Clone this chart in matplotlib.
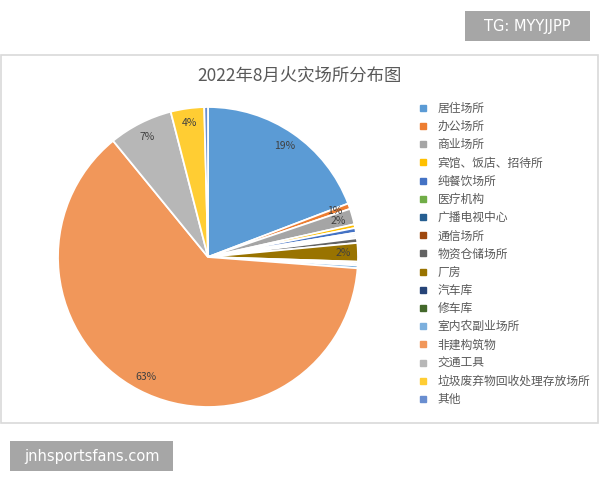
import matplotlib
matplotlib.use("Agg")
import matplotlib.pyplot as plt
from matplotlib.lines import Line2D
from matplotlib.patches import Rectangle
import numpy as np

plt.rcParams['font.family'] = ['Noto Sans CJK SC', 'DejaVu Sans']

title = "2022年8月火灾场所分布图"
categories = ["居住场所", "办公场所", "商业场所", "宾馆、饭店、招待所", "纯餐饮场所",
              "医疗机构", "广播电视中心", "通信场所", "物资仓储场所", "厂房",
              "汽车库", "修车库", "室内农副业场所", "非建构筑物", "交通工具",
              "垃圾废弃物回收处理存放场所", "其他"]
values = [19.2, 0.6, 1.7, 0.4, 0.5, 0.2, 0.2, 0.2, 0.5, 2.0,
          0.2, 0.2, 0.3, 62.9, 6.9, 3.6, 0.4]
colors = ["#5B9BD5", "#ED7D31", "#A5A5A5", "#FFC000", "#4472C4",
          "#70AD47", "#255E91", "#9E480E", "#636363", "#997300",
          "#264478", "#43682B", "#7CAFDD", "#F1975A", "#B7B7B7",
          "#FFCD33", "#698ED0"]

W, H = 600, 480
fig = plt.figure(figsize=(6, 4.8), dpi=100)

def fx(px):
    return px / W

def fy(py):
    return 1 - py / H

# chart frame
fig.patches.append(Rectangle((fx(1), fy(423)), fx(597), (423 - 55) / H,
                             transform=fig.transFigure, facecolor='white',
                             edgecolor='#d9d9d9', linewidth=1.2, zorder=-5))

# watermarks
fig.patches.append(Rectangle((fx(465), fy(41)), fx(125), 30 / H,
                             transform=fig.transFigure, facecolor='#a6a6a6',
                             edgecolor='none', zorder=-4))
fig.text(fx(527.5), fy(26), "TG: MYYJJPP", color='white', fontsize=10.5,
         ha='center', va='center', family=['DejaVu Sans'])
fig.patches.append(Rectangle((fx(10), fy(471)), fx(163), 30 / H,
                             transform=fig.transFigure, facecolor='#a6a6a6',
                             edgecolor='none', zorder=-4))
fig.text(fx(91.5), fy(456), "jnhsportsfans.com", color='white', fontsize=10.5,
         ha='center', va='center', family=['DejaVu Sans'])

fig.text(fx(299), fy(76), title, color='#595959', fontsize=12.5,
         ha='center', va='center')

cx, cy, r = 208, 257, 150
ax = fig.add_axes([fx(cx - r), fy(cy + r), 2 * r / W, 2 * r / H])
ax.set_zorder(5)
ax.patch.set_alpha(0)

def fmt(p):
    return f"{p:.0f}%" if p >= 0.55 else ""

wedges, texts, autotexts = ax.pie(values, colors=colors, startangle=90, counterclock=False,
                                  autopct=fmt, pctdistance=0.9,
                                  wedgeprops=dict(edgecolor='white', linewidth=1.3),
                                  textprops=dict(color='#404040', fontsize=7.5))
ax.set_xlim(-1.0, 1.0)
ax.set_ylim(-1.0, 1.0)
ax.set_aspect('equal')

handles = [Line2D([0], [0], marker='s', linestyle='none', markersize=5,
                  markerfacecolor=c, markeredgecolor=c) for c in colors]
leg = fig.legend(handles, categories, loc='upper left',
                 bbox_to_anchor=(fx(418), fy(102)), frameon=False,
                 fontsize=8.5, labelcolor='#595959', handlelength=0.8,
                 handletextpad=0.85, labelspacing=0.44, borderpad=0, borderaxespad=0)

fig.savefig("out.png", dpi=100)
